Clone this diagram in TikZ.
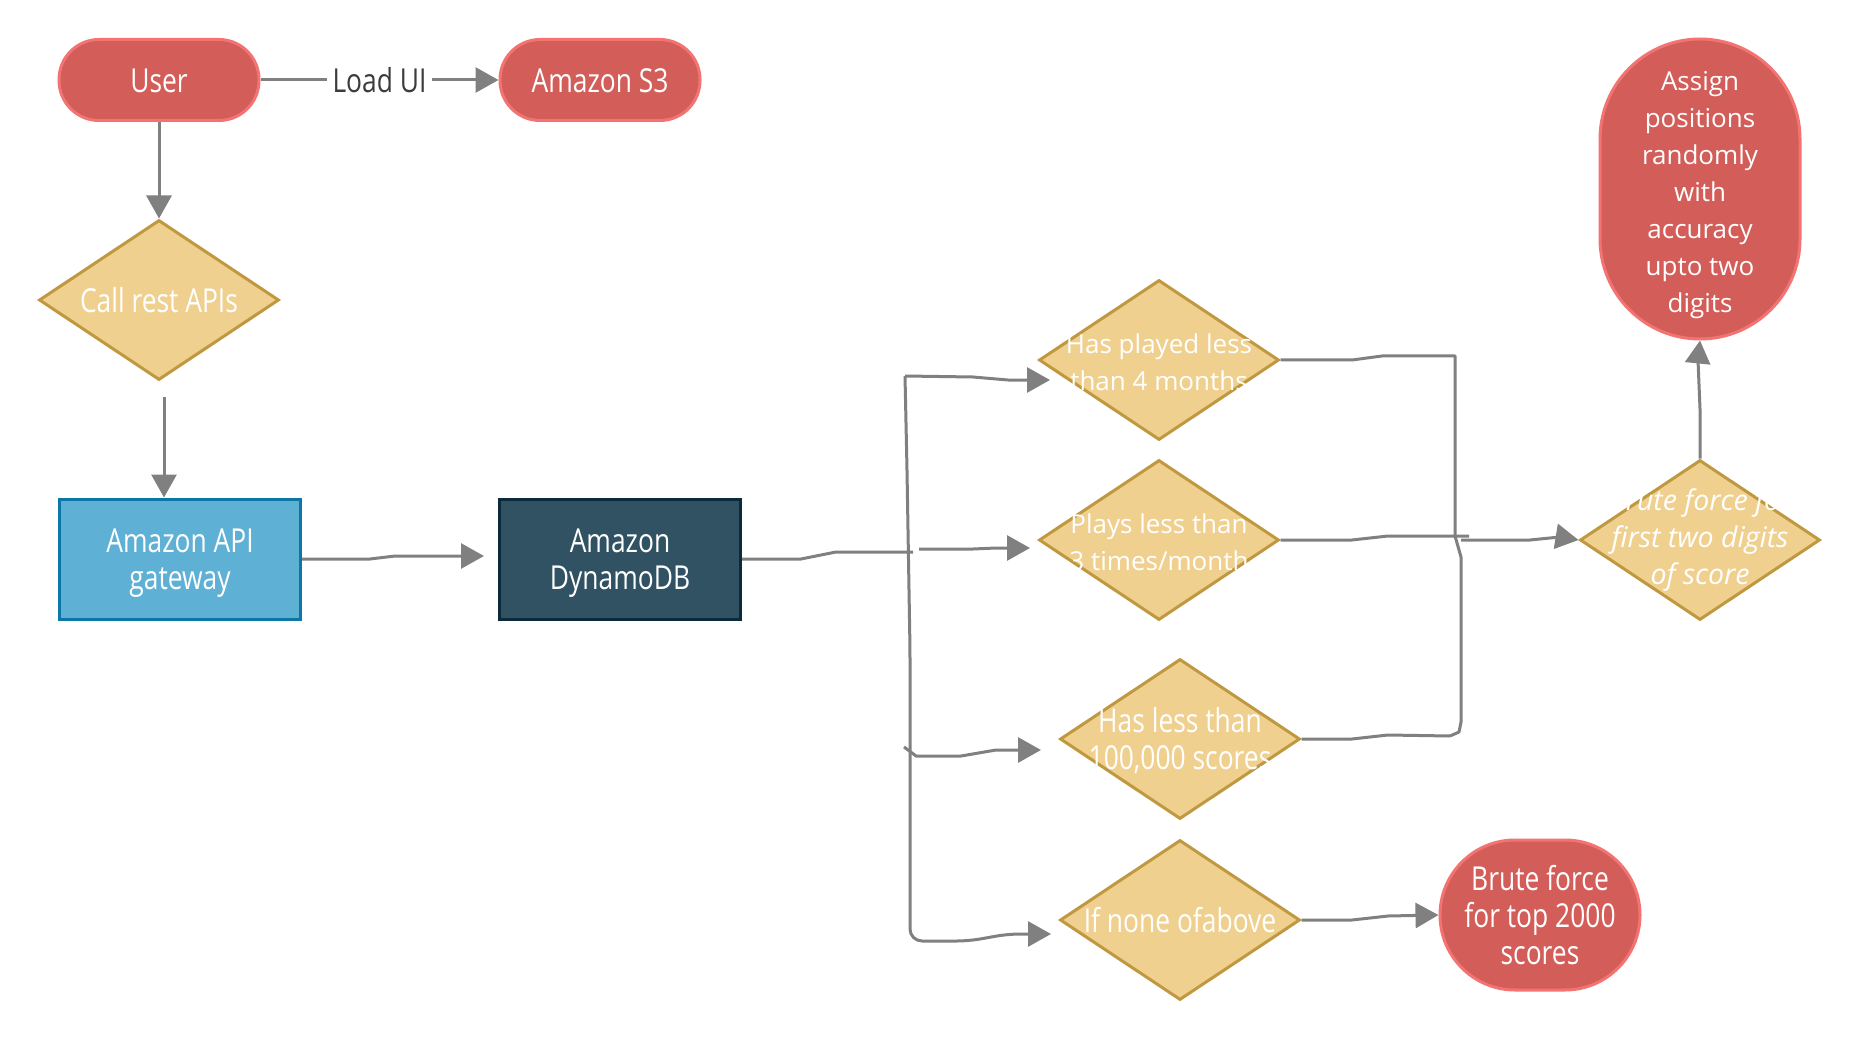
\documentclass[tikz,border=0pt]{standalone}
\usepackage{fontspec}
\setmainfont{Open Sans}
\usetikzlibrary{arrows.meta,shapes.geometric}
\definecolor{redf}{HTML}{D35D58}
\definecolor{redb}{HTML}{F37373}
\definecolor{diaf}{HTML}{F0D08F}
\definecolor{diab}{HTML}{BF9840}
\definecolor{gwf}{HTML}{5EB0D5}
\definecolor{gwb}{HTML}{0C77A7}
\definecolor{dbf}{HTML}{305263}
\definecolor{dbb}{HTML}{0B2A3B}
\definecolor{connc}{HTML}{808080}
\definecolor{lblc}{HTML}{3C3C3C}
\newcommand{\cnd}[1]{\raisebox{-5pt}[\height][\depth]{\scalebox{0.8}[1]{\fontsize{33}{37}\selectfont\begin{tabular}{@{}c@{}}#1\end{tabular}}}}
\newcommand{\lowr}[1]{\raisebox{-5pt}[\height][\depth]{\begin{tabular}{@{}c@{}}#1\end{tabular}}}
\begin{document}
\begin{tikzpicture}[x=1pt,y=-1pt,
 every node/.style={font=\fontsize{26}{37}\selectfont},
 pill/.style={draw=redb, fill=redf, line width=3pt, text=white, inner sep=0pt},
 dia/.style={diamond, draw=diab, fill=diaf, line width=3pt, minimum width=240pt, minimum height=160pt, inner sep=0pt},
 boxn/.style={rectangle, line width=3pt, minimum width=241pt, minimum height=120pt, text=white, inner sep=0pt},
 conn/.style={draw=connc, line width=3pt, line join=round},
 arr/.style={conn, -{Triangle[length=23pt,width=25pt]}},
 lbl/.style={text=white, align=center, inner sep=0pt}
]
\useasboundingbox (0,0) rectangle (1860,1040);

% nodes
\node[pill, minimum width=200pt, minimum height=81pt, rounded corners=40pt] (user) at (159,80) {\cnd{User}};
\node[pill, minimum width=200pt, minimum height=81pt, rounded corners=40pt] (s3) at (600,80) {\cnd{Amazon S3}};
\node[dia] (call) at (159,300) {};
\node[lbl] (callt) at (call) {\cnd{Call rest APIs}};
\node[boxn, draw=gwb, fill=gwf] (gw) at (180,559) {\cnd{Amazon API\\gateway}};
\node[boxn, draw=dbb, fill=dbf] (db) at (620,559) {\cnd{Amazon\\DynamoDB}};
\node[dia] (d1) at (1159,360) {};
\node[lbl] (d1t) at (d1) {\lowr{Has played less\\than 4 months}};
\node[dia] (d2) at (1159,540) {};
\node[lbl] (d2t) at (d2) {\lowr{Plays less than\\3 times/month}};
\node[dia] (d3) at (1180,739) {};
\node[lbl] (d3t) at (d3) {\cnd{Has less than\\100,000 scores}};
\node[dia] (d4) at (1180,920) {};
\node[lbl] (d4t) at (d4) {\cnd{If none ofabove}};
\node[pill, minimum width=200pt, minimum height=150pt, rounded corners=75pt] (bf) at (1540,915) {\cnd{Brute force\\for top 2000\\scores}};
\node[dia] (d5) at (1700,540) {};
\node[lbl, font=\fontsize{28.5}{37}\selectfont\itshape] (d5t) at (d5) {\begin{tabular}{@{}c@{}}Brute force for\\first two digits\\of score\end{tabular}};
\node[pill, minimum width=200pt, minimum height=300pt, rounded corners=100pt] (asg) at (1700,189) {\lowr{Assign\\positions\\randomly\\with\\accuracy\\upto two\\digits}};

% coordinates
\coordinate (c1) at (164,397);
\coordinate (g1) at (484,556);
\coordinate (fk) at (913,552);
\coordinate (b0) at (905,376);
\coordinate (b2) at (919,549);
\coordinate (b3) at (904,747);
\coordinate (a1) at (1050,380);
\coordinate (a2) at (1030,548);
\coordinate (a3) at (1041,750);
\coordinate (a4) at (1051,934);
\coordinate (r1) at (1469,536);
\coordinate (r2) at (1461,540);
\coordinate (r3) at (1450,736);

% connectors
\draw[arr] (user.east) -- node[fill=white, text=lblc, inner xsep=6pt, inner ysep=2pt] (lui) {\cnd{Load UI}} (s3.west);
\draw[arr] (user.south) -- ++(0,50) -- (call.north);
\draw[arr] (c1) -- (c1 |- gw.north);
\draw[arr] (gw.east) -- (370,559) -- (395,556) -- (g1);
\draw[conn] (db.east) -- (801,559) -- (836,552) -- (fk);
\draw[arr, rounded corners=12pt] (b0) -- (907,470) -- (910,650) -- (910,941) -- (969,941) -- (1008,934) -- (a4);
\draw[arr] (b0) -- (973,377) -- (1008,380) -- (a1);
\draw[arr] (b2) -- (973,549) -- (996,548) -- (a2);
\draw[arr] (b3) -- (916,756) -- (961,756) -- (996,750) -- (a3);
\draw[conn] (d1.east) -- (1352,360) -- (1382,356) -- (1455,356) -- (1455,536) -- (1461,557) -- (1461,722) -- (1459,732) -- (r3);
\draw[conn] (d2.east) -- (1352,540) -- (1388,536) -- (r1);
\draw[conn] (d3.east) -- (1352,739) -- (1388,735) -- (r3);
\draw[arr] (r2) -- (1530,540) -- (1560,537) -- (d5.west);
\draw[arr] (d4.east) -- (1352,920) -- (1388,916) -- (bf.west);
\draw[arr] (d5.north) -- (1700,409) -- (1698,360) -- (asg.south);
\end{tikzpicture}
\end{document}
